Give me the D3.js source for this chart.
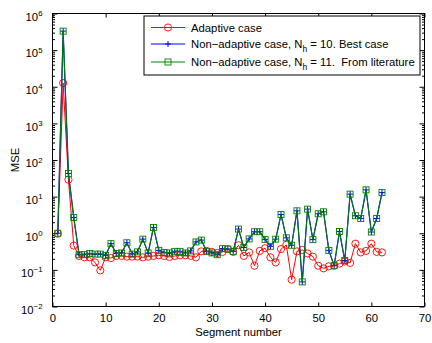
<!DOCTYPE html>
<html><head><meta charset="utf-8">
<script src="https://cdn.jsdelivr.net/npm/d3@7"></script>
<style>
body{margin:0;background:#fff;}
svg{display:block;font-family:"Liberation Sans",Arial,Helvetica,sans-serif;}
</style></head>
<body>
<svg id="chart" width="432" height="343"></svg>
<script>
const segments = [1,2,3,4,5,6,7,8,9,10,11,12,13,14,15,16,17,18,19,20,21,22,23,24,25,26,27,28,29,30,31,32,33,34,35,36,37,38,39,40,41,42,43,44,45,46,47,48,49,50,51,52,53,54,55,56,57,58,59,60,61,62];
const adaptive = [0.97,1.26e4,29,0.46,0.24,0.22,0.22,0.16,0.097,0.22,0.21,0.24,0.24,0.23,0.23,0.23,0.22,0.23,0.24,0.25,0.24,0.225,0.24,0.25,0.25,0.24,0.22,0.32,0.33,0.31,0.29,0.31,0.37,0.31,0.47,0.24,0.30,0.13,0.33,0.39,0.22,0.16,0.37,0.48,0.054,0.32,0.35,0.28,0.23,0.13,0.11,0.125,0.13,0.148,0.17,0.155,0.52,0.30,0.33,0.52,0.31,0.30];
const nonAdaptive10 = [1.0,3.3e5,43,2.7,0.26,0.26,0.28,0.27,0.27,0.25,0.52,0.28,0.29,0.55,0.27,0.31,0.69,0.29,1.44,0.34,0.30,0.29,0.32,0.32,0.29,0.33,0.58,0.65,0.32,0.29,0.26,0.38,0.37,0.32,1.3,0.41,0.70,1.1,1.1,0.68,0.44,0.69,3.25,0.75,0.47,4.1,0.047,4.55,0.67,3.4,3.85,0.34,0.13,1.12,0.18,11.7,3.0,2.53,15.3,1.08,2.53,12.9];
const nonAdaptive11 = [1.0,3.3e5,43,2.7,0.26,0.26,0.28,0.27,0.27,0.25,0.52,0.28,0.29,0.55,0.27,0.31,0.69,0.29,1.44,0.34,0.30,0.29,0.32,0.32,0.29,0.33,0.58,0.65,0.32,0.29,0.26,0.38,0.37,0.32,1.3,0.41,0.70,1.1,1.1,0.68,0.44,0.69,3.25,0.75,0.47,4.1,0.047,4.55,0.67,3.4,3.85,0.34,0.13,1.12,0.18,11.7,3.0,2.53,15.3,1.08,2.53,12.9];
const xTicks = [0,10,20,30,40,50,60,70];
const yDecades = [-2,-1,0,1,2,3,4,5,6];
const legendLabels = [
  {pre:"Adaptive case", sub:"", post:""},
  {pre:"Non\u2212adaptive case, N", sub:"h", post:" = 10. Best case"},
  {pre:"Non\u2212adaptive case, N", sub:"h", post:" = 11.  From literature"}
];

const svg = d3.select("#chart");
const L = 52.5, R = 424.5, T = 13.5, B = 306.5;
const x = d3.scaleLinear().domain([0,70]).range([L,R]);
const y = d3.scaleLog().domain([1e-2,1e6]).range([B,T]);

const FS = 11.3;
const minorVals = [];
yDecades.slice(0,-1).forEach(e => { for (let k=2;k<=9;k++) minorVals.push(k*Math.pow(10,e)); });

// frame
svg.append("rect").attr("x",L).attr("y",T).attr("width",R-L).attr("height",B-T)
  .attr("fill","none").attr("stroke","#000").attr("stroke-width",1);

function styleAxis(g){ g.select(".domain").remove(); g.selectAll("line").attr("stroke","#000"); }

// x axes
const gxb = svg.append("g").attr("transform",`translate(0,${B})`)
  .call(d3.axisBottom(x).tickValues(xTicks).tickSizeInner(-4).tickSizeOuter(0).tickPadding(7.5).tickFormat(d3.format("d")));
styleAxis(gxb);
gxb.selectAll("text").attr("font-size",FS).attr("fill","#000").attr("font-family","Liberation Sans, Arial, sans-serif");
const gxt = svg.append("g").attr("transform",`translate(0,${T})`)
  .call(d3.axisTop(x).tickValues(xTicks).tickSizeInner(-4).tickSizeOuter(0).tickFormat(""));
styleAxis(gxt);

// y axes major
const majorVals = yDecades.map(e => Math.pow(10,e));
const gyl = svg.append("g").attr("transform",`translate(${L},0)`)
  .call(d3.axisLeft(y).tickValues(majorVals).tickSizeInner(-5).tickSizeOuter(0).tickPadding(10).tickFormat(""));
styleAxis(gyl);
gyl.selectAll(".tick text").each(function(d,i){
  const t = d3.select(this);
  t.text(null).attr("font-size",FS).attr("fill","#000").attr("dy","0.6em")
   .attr("font-family","Liberation Sans, Arial, sans-serif");
  t.append("tspan").text("10");
  const e = yDecades[i];
  t.append("tspan").attr("dy","-0.6em").attr("font-size","7.8px").text(e<0 ? "\u2212"+(-e) : String(e));
});
const gyr = svg.append("g").attr("transform",`translate(${R},0)`)
  .call(d3.axisRight(y).tickValues(majorVals).tickSizeInner(-5).tickSizeOuter(0).tickFormat(""));
styleAxis(gyr);
// minor
const gyl2 = svg.append("g").attr("transform",`translate(${L},0)`)
  .call(d3.axisLeft(y).tickValues(minorVals).tickSizeInner(-2.5).tickSizeOuter(0).tickFormat(""));
styleAxis(gyl2);
const gyr2 = svg.append("g").attr("transform",`translate(${R},0)`)
  .call(d3.axisRight(y).tickValues(minorVals).tickSizeInner(-2.5).tickSizeOuter(0).tickFormat(""));
styleAxis(gyr2);

// axis labels
svg.append("text").attr("x",(L+R)/2).attr("y",336).attr("text-anchor","middle")
  .attr("font-size",FS).text("Segment number");
svg.append("text").attr("transform",`translate(19,${(T+B)/2}) rotate(-90)`).attr("text-anchor","middle")
  .attr("font-size",FS).text("MSE");

const line = d3.line().x((d,i)=>x(segments[i])).y(d=>y(d));

const RED="#ff0000", BLUE="#0000ff", GREEN="#008000";

// adaptive
svg.append("path").datum(adaptive).attr("d",line).attr("fill","none").attr("stroke",RED).attr("stroke-width",1);
svg.append("g").selectAll("circle").data(adaptive).join("circle")
  .attr("cx",(d,i)=>x(segments[i])).attr("cy",d=>y(d)).attr("r",3.6)
  .attr("fill","none").attr("stroke",RED).attr("stroke-width",0.9);

// non-adaptive 10
svg.append("path").datum(nonAdaptive10).attr("d",line).attr("fill","none").attr("stroke",BLUE).attr("stroke-width",1.2);
const plus = (g, cx, cy, s, col) => {
  g.append("line").attr("x1",cx-s).attr("x2",cx+s).attr("y1",cy).attr("y2",cy).attr("stroke",col).attr("stroke-width",1);
  g.append("line").attr("x1",cx).attr("x2",cx).attr("y1",cy-s).attr("y2",cy+s).attr("stroke",col).attr("stroke-width",1);
};
const gp = svg.append("g");
nonAdaptive10.forEach((d,i)=>plus(gp, x(segments[i]), y(d), 3, BLUE));

// non-adaptive 11
svg.append("path").datum(nonAdaptive11).attr("d",line).attr("fill","none").attr("stroke",GREEN).attr("stroke-width",1);
svg.append("g").selectAll("rect").data(nonAdaptive11).join("rect")
  .attr("x",(d,i)=>x(segments[i])-3).attr("y",d=>y(d)-3).attr("width",6).attr("height",6)
  .attr("fill","none").attr("stroke",GREEN).attr("stroke-width",0.9);

// legend
const lg = svg.append("g");
lg.append("rect").attr("x",144).attr("y",16).attr("width",276).attr("height",59)
  .attr("fill","#fff").attr("stroke","#000").attr("stroke-width",1);
const rowsY = [27.5,44,62];
const cols = [RED,BLUE,GREEN];
legendLabels.forEach((lab,i)=>{
  const yy = rowsY[i];
  lg.append("line").attr("x1",151).attr("x2",185).attr("y1",yy).attr("y2",yy).attr("stroke",cols[i]).attr("stroke-width",1);
  if (i===0) lg.append("circle").attr("cx",168).attr("cy",yy).attr("r",3.6).attr("fill","none").attr("stroke",RED).attr("stroke-width",0.9);
  if (i===1) plus(lg,168,yy,3,BLUE);
  if (i===2) lg.append("rect").attr("x",165).attr("y",yy-3).attr("width",6).attr("height",6).attr("fill","none").attr("stroke",GREEN).attr("stroke-width",0.9);
  const t = lg.append("text").attr("x",191).attr("y",yy+4).attr("font-size",FS).attr("xml:space","preserve").style("white-space","pre");
  t.append("tspan").text(lab.pre);
  if (lab.sub) {
    t.append("tspan").attr("dy",3.8).attr("font-size","8.5px").text(lab.sub);
    t.append("tspan").attr("dy",-3.8).text(lab.post);
  }
});
</script>
</body></html>
